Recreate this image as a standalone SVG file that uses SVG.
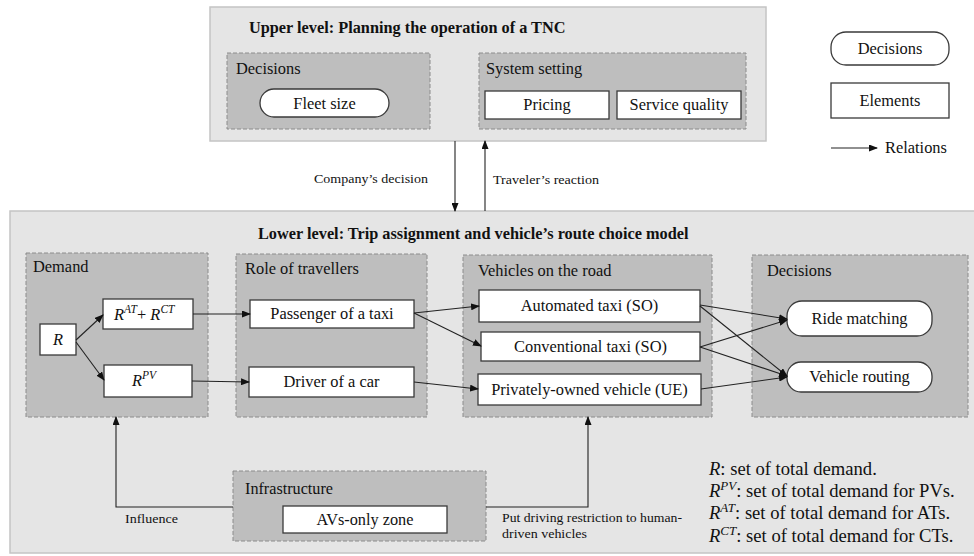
<svg xmlns="http://www.w3.org/2000/svg" width="974" height="556" viewBox="0 0 974 556">
<defs>
<marker id="ah" markerUnits="userSpaceOnUse" markerWidth="9" markerHeight="7" refX="8" refY="3.5" orient="auto">
<path d="M0,0 L9,3.5 L0,7 z" fill="#111"/>
</marker>
<style>
svg text{font-family:'Liberation Serif',serif;fill:#111}
.dg-txt{font-size:16.4px}
.dg-mid{text-anchor:middle}
.dg-bold{font-weight:bold;font-size:16.3px}
.dg-sm{font-size:13.5px}
.dg-it{font-style:italic}
.dg-note{font-size:18.6px}
.dg-lvl{fill:#e5e5e5;stroke:#c4c4c4;stroke-width:1.5}
.dg-grp{fill:#bebebe;stroke:#8c8c8c;stroke-dasharray:4 2;stroke-width:1}
.dg-el{fill:#fff;stroke:#3a3a3a;stroke-width:1.3}
.dg-cn line,.dg-cn polyline{stroke:#222;stroke-width:1.1;fill:none;marker-end:url(#ah)}
</style>
</defs>
<rect width="974" height="556" fill="#fff"/>

<g id="upper-level">
<rect class="dg-lvl" x="210" y="7" width="556" height="134"/>
<text style="font-family:'Liberation Serif',serif" class="dg-bold" x="249" y="33">Upper level: Planning the operation of a TNC</text>
</g>
<g id="upper-decisions">
<rect class="dg-grp" x="227" y="53" width="203" height="76"/>
<text style="font-family:'Liberation Serif',serif" class="dg-txt" x="236" y="74">Decisions</text>
</g>
<g id="fleet-size">
<rect class="dg-el" x="260" y="89" width="129" height="28" rx="14"/>
<text style="font-family:'Liberation Serif',serif" class="dg-txt dg-mid" x="324.5" y="109">Fleet size</text>
</g>
<g id="system-setting">
<rect class="dg-grp" x="479" y="53" width="267" height="76"/>
<text style="font-family:'Liberation Serif',serif" class="dg-txt" x="486" y="74">System setting</text>
</g>
<g id="pricing">
<rect class="dg-el" x="485" y="91" width="124" height="28"/>
<text style="font-family:'Liberation Serif',serif" class="dg-txt dg-mid" x="547" y="110">Pricing</text>
</g>
<g id="service-quality">
<rect class="dg-el" x="617" y="91" width="124" height="28"/>
<text style="font-family:'Liberation Serif',serif" class="dg-txt dg-mid" x="679" y="110">Service quality</text>
</g>

<g id="legend">
<rect class="dg-el" x="831" y="32" width="118" height="33" rx="15"/>
<text style="font-family:'Liberation Serif',serif" class="dg-txt dg-mid" x="890" y="54">Decisions</text>
<rect class="dg-el" x="831" y="83" width="118" height="35"/>
<text style="font-family:'Liberation Serif',serif" class="dg-txt dg-mid" x="890" y="106">Elements</text>
<text style="font-family:'Liberation Serif',serif" class="dg-txt" x="885" y="153">Relations</text>
</g>

<g id="lower-level">
<rect class="dg-lvl" x="10" y="211" width="966" height="342"/>
<text style="font-family:'Liberation Serif',serif" class="dg-bold" x="258" y="239">Lower level: Trip assignment and vehicle’s route choice model</text>
</g>
<g id="demand">
<rect class="dg-grp" x="26" y="253" width="182" height="164"/>
<text style="font-family:'Liberation Serif',serif" class="dg-txt" x="33" y="272">Demand</text>
</g>
<g id="role">
<rect class="dg-grp" x="236" y="254" width="191" height="163"/>
<text style="font-family:'Liberation Serif',serif" class="dg-txt" x="245" y="274">Role of travellers</text>
</g>
<g id="vehicles">
<rect class="dg-grp" x="463" y="255" width="249" height="162"/>
<text style="font-family:'Liberation Serif',serif" class="dg-txt" x="478" y="276">Vehicles on the road</text>
</g>
<g id="lower-decisions">
<rect class="dg-grp" x="752" y="255" width="216" height="162"/>
<text style="font-family:'Liberation Serif',serif" class="dg-txt" x="767" y="276">Decisions</text>
</g>
<g id="infrastructure">
<rect class="dg-grp" x="233" y="471" width="253" height="70"/>
<text style="font-family:'Liberation Serif',serif" class="dg-txt" x="245" y="494" textLength="88" lengthAdjust="spacingAndGlyphs">Infrastructure</text>
</g>

<g id="r">
<rect class="dg-el" x="40" y="324" width="36" height="31"/>
<text style="font-family:'Liberation Serif',serif" class="dg-txt dg-mid dg-it" x="58" y="345">R</text>
</g>
<g id="r-at-ct">
<rect class="dg-el" x="103" y="299" width="90" height="30"/>
<text style="font-family:'Liberation Serif',serif" class="dg-txt dg-it" x="114" y="320">R<tspan font-size="11.5" dy="-7">AT</tspan><tspan dy="7" font-style="normal">+ </tspan>R<tspan font-size="11.5" dy="-7">CT</tspan></text>
</g>
<g id="r-pv">
<rect class="dg-el" x="104" y="365" width="88" height="32"/>
<text style="font-family:'Liberation Serif',serif" class="dg-txt dg-it" x="132" y="386">R<tspan font-size="11.5" dy="-7">PV</tspan></text>
</g>
<g id="passenger">
<rect class="dg-el" x="250" y="300" width="164" height="28"/>
<text style="font-family:'Liberation Serif',serif" class="dg-txt dg-mid" x="332" y="319">Passenger of a taxi</text>
</g>
<g id="driver">
<rect class="dg-el" x="249" y="367" width="165" height="30"/>
<text style="font-family:'Liberation Serif',serif" class="dg-txt dg-mid" x="331.5" y="387">Driver of a car</text>
</g>
<g id="automated-taxi">
<rect class="dg-el" x="479" y="290" width="221" height="32"/>
<text style="font-family:'Liberation Serif',serif" class="dg-txt dg-mid" x="589.5" y="311">Automated taxi (SO)</text>
</g>
<g id="conventional-taxi">
<rect class="dg-el" x="481" y="332" width="219" height="29"/>
<text style="font-family:'Liberation Serif',serif" class="dg-txt dg-mid" x="590.5" y="352">Conventional taxi (SO)</text>
</g>
<g id="private-vehicle">
<rect class="dg-el" x="478" y="374" width="223" height="31"/>
<text style="font-family:'Liberation Serif',serif" class="dg-txt dg-mid" x="589.5" y="395">Privately-owned vehicle (UE)</text>
</g>
<g id="ride-matching">
<rect class="dg-el" x="787" y="301" width="145" height="35" rx="15"/>
<text style="font-family:'Liberation Serif',serif" class="dg-txt dg-mid" x="859.5" y="324">Ride matching</text>
</g>
<g id="vehicle-routing">
<rect class="dg-el" x="787" y="362" width="145" height="30" rx="14"/>
<text style="font-family:'Liberation Serif',serif" class="dg-txt dg-mid" x="859.5" y="382">Vehicle routing</text>
</g>
<g id="avs-zone">
<rect class="dg-el" x="283" y="506" width="164" height="27"/>
<text style="font-family:'Liberation Serif',serif" class="dg-txt dg-mid" x="365" y="525" textLength="97" lengthAdjust="spacingAndGlyphs">AVs-only zone</text>
</g>

<g id="connectors" class="dg-cn">
<line x1="455" y1="141" x2="455" y2="211"/>
<line x1="485" y1="211" x2="485" y2="141"/>
<line x1="831" y1="148" x2="877" y2="148"/>
<line x1="76" y1="340" x2="103" y2="315"/>
<line x1="76" y1="342" x2="104" y2="380"/>
<line x1="193" y1="314" x2="250" y2="314"/>
<line x1="192" y1="381" x2="249" y2="382"/>
<line x1="414" y1="313" x2="479" y2="306"/>
<line x1="414" y1="313" x2="481" y2="346"/>
<line x1="414" y1="382" x2="478" y2="389"/>
<line x1="700" y1="305" x2="787" y2="319"/>
<line x1="700" y1="306" x2="787" y2="376"/>
<line x1="700" y1="347" x2="787" y2="320"/>
<line x1="700" y1="347" x2="787" y2="376"/>
<line x1="701" y1="389" x2="787" y2="377"/>
<polyline points="233,507 116,507 116,417"/>
<polyline points="486,507 588,507 588,417"/>
</g>

<g id="labels">
<text style="font-family:'Liberation Serif',serif" class="dg-sm" x="314" y="183" textLength="114" lengthAdjust="spacingAndGlyphs">Company’s decision</text>
<text style="font-family:'Liberation Serif',serif" class="dg-sm" x="493" y="184" textLength="106" lengthAdjust="spacingAndGlyphs">Traveler’s reaction</text>
<text style="font-family:'Liberation Serif',serif" class="dg-sm" x="125" y="523" textLength="53" lengthAdjust="spacingAndGlyphs">Influence</text>
<text style="font-family:'Liberation Serif',serif" class="dg-sm" x="502" y="522" textLength="180" lengthAdjust="spacingAndGlyphs">Put driving restriction to human-</text>
<text style="font-family:'Liberation Serif',serif" class="dg-sm" x="502" y="538" textLength="85" lengthAdjust="spacingAndGlyphs">driven vehicles</text>
</g>
<g id="notation">
<text style="font-family:'Liberation Serif',serif" class="dg-note" x="709" y="475"><tspan class="dg-it">R</tspan>: set of total demand.</text>
<text style="font-family:'Liberation Serif',serif" class="dg-note" x="709" y="497"><tspan class="dg-it">R</tspan><tspan class="dg-it" font-size="13" dy="-7">PV</tspan><tspan dy="7">: set of total demand for PVs.</tspan></text>
<text style="font-family:'Liberation Serif',serif" class="dg-note" x="709" y="519"><tspan class="dg-it">R</tspan><tspan class="dg-it" font-size="13" dy="-7">AT</tspan><tspan dy="7">: set of total demand for ATs.</tspan></text>
<text style="font-family:'Liberation Serif',serif" class="dg-note" x="709" y="542"><tspan class="dg-it">R</tspan><tspan class="dg-it" font-size="13" dy="-7">CT</tspan><tspan dy="7">: set of total demand for CTs.</tspan></text>
</g>
</svg>
